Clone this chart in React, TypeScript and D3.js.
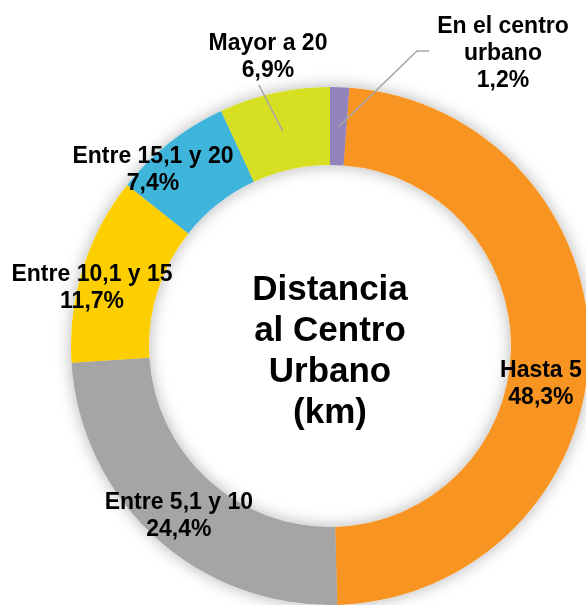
import React from "react";
import * as d3 from "d3";

const categories = ["En el centro urbano", "Hasta 5", "Entre 5,1 y 10", "Entre 10,1 y 15", "Entre 15,1 y 20", "Mayor a 20"];
const values = [1.2, 48.3, 24.4, 11.7, 7.4, 6.9];
const valueLabels = ["1,2%", "48,3%", "24,4%", "11,7%", "7,4%", "6,9%"];
const labelLines = [["En el centro", "urbano"], ["Hasta 5"], ["Entre 5,1 y 10"], ["Entre 10,1 y 15"], ["Entre 15,1 y 20"], ["Mayor a 20"]];
const colors = ["#9484be", "#f79420", "#a5a5a5", "#fecf00", "#40b5dc", "#d7df23"];
const centerTitle = ["Distancia", "al Centro", "Urbano", "(km)"];

// layout: label anchor (first-line baseline) offsets relative to the arc centroid
const labelOffsets = [
  { dx: 0, dy: 0, abs: true, x: 503, y: 33 },
  { dx: -9, dy: 26, abs: false, x: 0, y: 0 },
  { dx: -3, dy: 0, abs: false, x: 0, y: 0 },
  { dx: -28, dy: 1, abs: false, x: 0, y: 0 },
  { dx: -41, dy: -10, abs: false, x: 0, y: 0 },
  { dx: 0, dy: 0, abs: true, x: 268, y: 50 },
];

const W = 586;
const H = 605;
const cx = 330;
const cy = 346;
const rOuter = 259;
const rInner = 181;
const lineH = 27;

export default function App() {
  const pie = d3.pie<number>().sort(null).value((d) => d).startAngle(0).endAngle(2 * Math.PI);
  const arcs = pie(values);
  const arcGen = d3.arc<d3.PieArcDatum<number>>().innerRadius(rInner).outerRadius(rOuter);
  const midArc = d3.arc<d3.PieArcDatum<number>>().innerRadius(220).outerRadius(220);

  const pointAt = (a: number, r: number) => [cx + r * Math.sin(a), cy - r * Math.cos(a)];

  return (
    <svg width={W} height={H} style={{ position: "absolute", left: 0, top: 0 }} fontFamily="'Liberation Sans', Arial, sans-serif">
      <defs>
        <filter id="sh" x="-20%" y="-20%" width="140%" height="140%">
          <feDropShadow dx="0" dy="0" stdDeviation="8" floodColor="#000" floodOpacity="0.3" />
        </filter>
      </defs>
      <rect width={W} height={H} fill="#fff" />
      <g filter="url(#sh)">
        {arcs.map((a, i) => (
          <path key={i} d={arcGen(a) || ""} transform={`translate(${cx},${cy})`} fill={colors[i]} />
        ))}
      </g>
      {(() => {
        const aP = (arcs[0].startAngle + arcs[0].endAngle) / 2;
        const [px, py] = pointAt(aP, 219);
        const aM = (arcs[5].startAngle + arcs[5].endAngle) / 2;
        const [mx, my] = pointAt(aM, 220);
        return (
          <g stroke="#a6a6a6" strokeWidth={1.5} fill="none">
            <polyline points={`${px},${py} 417,51 429,51`} />
            <line x1={259} y1={85} x2={mx} y2={my} />
          </g>
        );
      })()}
      {arcs.map((a, i) => {
        const c = midArc.centroid(a);
        const o = labelOffsets[i];
        const x = o.abs ? o.x : cx + c[0] + o.dx;
        const y = o.abs ? o.y : cy + c[1] + o.dy;
        const lines = [...labelLines[i], valueLabels[i]];
        return (
          <text key={i} x={x} y={y} textAnchor="middle" fontSize={23} fontWeight="bold" fill="#000">
            {lines.map((l, j) => (
              <tspan key={j} x={x} y={y + j * lineH}>
                {l}
              </tspan>
            ))}
          </text>
        );
      })}
      <text textAnchor="middle" fontSize={35} fontWeight="bold" fill="#000">
        {centerTitle.map((l, j) => (
          <tspan key={j} x={cx} y={300 + j * 41}>
            {l}
          </tspan>
        ))}
      </text>
    </svg>
  );
}
